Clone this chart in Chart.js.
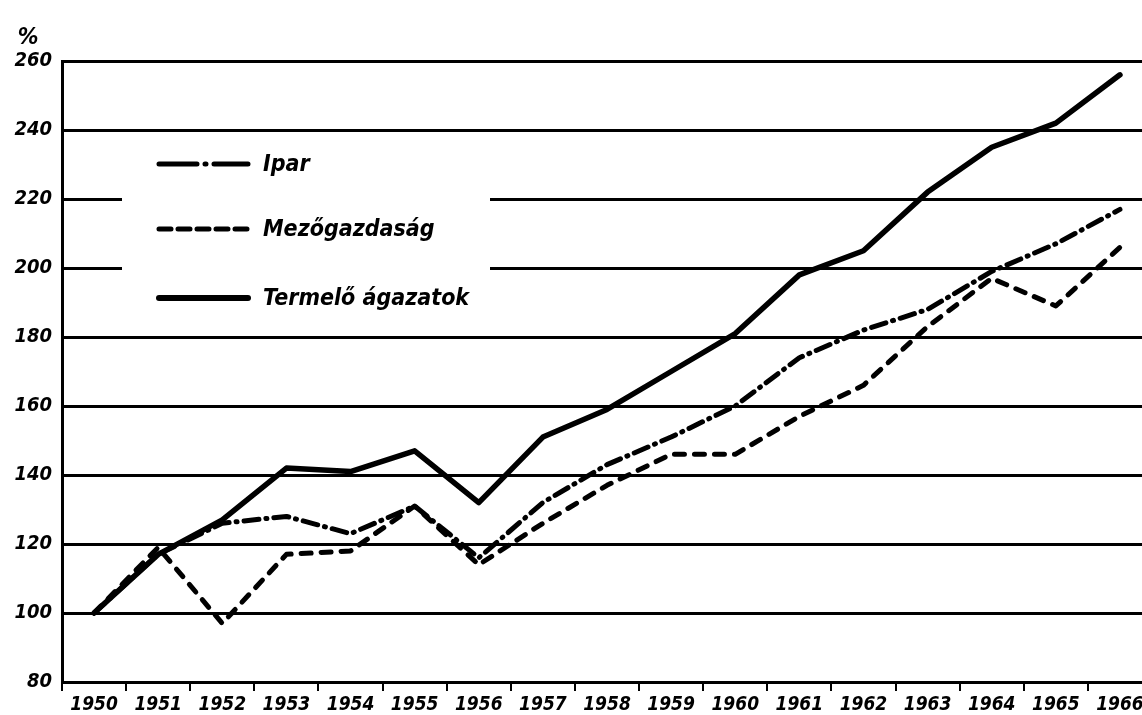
<!DOCTYPE html>
<html>
<head>
<meta charset="utf-8">
<script src="https://cdn.jsdelivr.net/npm/chart.js@4.4.1/dist/chart.umd.min.js"></script>
<style>
  html, body { margin: 0; padding: 0; background: #fff; overflow: hidden; }
  #wrap { width: 1152px; height: 715px; }
</style>
</head>
<body>
<div id="wrap"><canvas id="c" width="1152" height="715"></canvas></div>
<script>
const years = ['1950','1951','1952','1953','1954','1955','1956','1957','1958','1959','1960','1961','1962','1963','1964','1965','1966'];
const ipar = [100, 117, 126, 128, 123, 131, 116, 132, 143, 151, 160, 174, 182, 188, 199, 207, 217];
const mezogazdasag = [100, 119, 97, 117, 118, 131, 114, 126, 137, 146, 146, 157, 166, 183, 197, 189, 206];
const termelo = [100, 117, 127, 142, 141, 147, 132, 151, 159, 170, 181, 198, 205, 222, 235, 242, 256];
const yTicks = [80, 100, 120, 140, 160, 180, 200, 220, 240, 260];
const seriesNames = ['Ipar', 'Mezőgazdaság', 'Termelő ágazatok'];

const FAM = "'DejaVu Sans Condensed', 'Liberation Sans Narrow', 'DejaVu Sans', sans-serif";
const IPAR_DASH = [15, 7, 1, 7];
const MEZO_DASH = [10, 10];

const legendPlugin = {
  id: 'inlineLegend',
  beforeDatasetsDraw(chart) {
    const ctx = chart.ctx;
    ctx.save();
    ctx.fillStyle = '#fff';
    ctx.fillRect(122, 141, 368, 184);
    const items = [
      { y: 164, dash: [38, 8, 1, 8], w: 5 },
      { y: 229, dash: [12, 7], w: 5 },
      { y: 298, dash: [], w: 6 }
    ];
    items.forEach((it, i) => {
      ctx.beginPath();
      ctx.setLineDash(it.dash);
      ctx.lineWidth = it.w;
      ctx.lineCap = 'round';
      ctx.strokeStyle = '#000';
      ctx.moveTo(159, it.y);
      ctx.lineTo(248, it.y);
      ctx.stroke();
      ctx.setLineDash([]);
      ctx.fillStyle = '#000';
      ctx.font = "italic bold 23px " + FAM;
      ctx.textBaseline = 'middle';
      ctx.textAlign = 'left';
      ctx.fillText(seriesNames[i], 263, it.y + 1);
    });
    ctx.restore();
  },
  afterDraw(chart) {
    const ctx = chart.ctx;
    ctx.save();
    ctx.fillStyle = '#000';
    ctx.font = "italic bold 23px " + FAM;
    ctx.textAlign = 'center';
    ctx.textBaseline = 'middle';
    ctx.fillText('%', 28, 38);
    ctx.restore();
  }
};

new Chart(document.getElementById('c'), {
  type: 'line',
  data: {
    labels: years,
    datasets: [
      { label: seriesNames[2], data: termelo, borderColor: '#000', borderWidth: 5.5, borderDash: [], pointRadius: 0, tension: 0, borderCapStyle: 'round', borderJoinStyle: 'round' },
      { label: seriesNames[0], data: ipar, borderColor: '#000', borderWidth: 5, borderDash: IPAR_DASH, pointRadius: 0, tension: 0, borderCapStyle: 'round', borderJoinStyle: 'round' },
      { label: seriesNames[1], data: mezogazdasag, borderColor: '#000', borderWidth: 5, borderDash: MEZO_DASH, pointRadius: 0, tension: 0, borderCapStyle: 'round', borderJoinStyle: 'round' }
    ]
  },
  options: {
    responsive: false,
    animation: false,
    events: [],
    layout: { padding: { top: 61, left: 0, right: 0, bottom: 0 } },
    plugins: { legend: { display: false }, tooltip: { enabled: false }, title: { display: false } },
    scales: {
      x: {
        type: 'category',
        offset: true,
        grid: { offset: true, drawOnChartArea: false, drawTicks: true, tickLength: 9, color: '#000', lineWidth: 2 },
        border: { display: true, color: '#000', width: 3 },
        ticks: { color: '#000', font: { family: FAM, size: 19, style: 'italic', weight: 'bold' }, padding: 3, maxRotation: 0, autoSkip: false },
        afterFit(s) { s.height = 33; }
      },
      y: {
        min: 80, max: 260,
        afterBuildTicks(s) { s.ticks = yTicks.map(v => ({ value: v })); },
        grid: { color: '#000', lineWidth: 3, drawTicks: false },
        border: { display: true, color: '#000', width: 3 },
        ticks: { color: '#000', font: { family: FAM, size: 20, style: 'italic', weight: 'bold' }, padding: 10 },
        afterFit(s) { s.width = 62; }
      }
    }
  },
  plugins: [legendPlugin]
});
</script>
</body>
</html>
